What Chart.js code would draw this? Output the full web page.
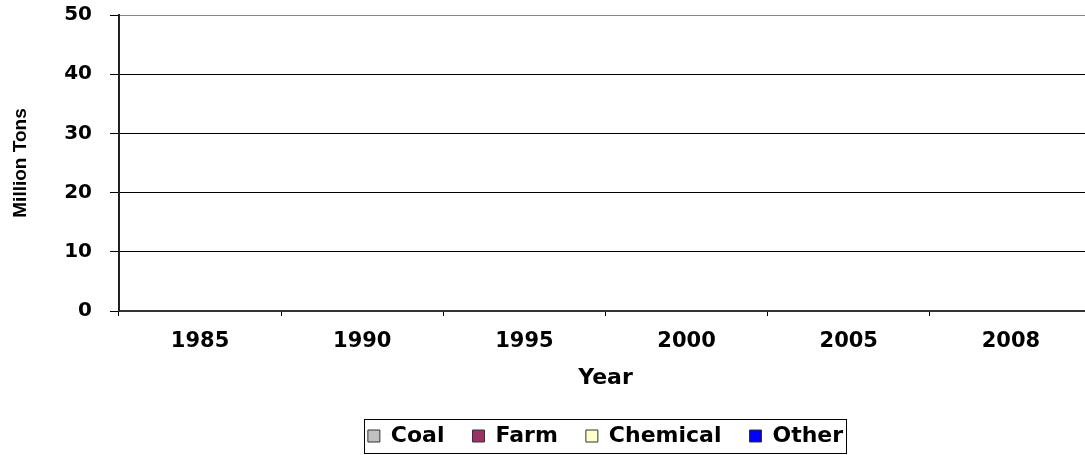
<!DOCTYPE html>
<html>
<head>
<meta charset="utf-8">
<script src="https://cdn.jsdelivr.net/npm/chart.js@4/dist/chart.umd.min.js"></script>
<style>
  html, body { margin: 0; padding: 0; background: #fff; overflow: hidden; }
  #wrap { position: relative; width: 1092px; height: 455px; }
</style>
</head>
<body>
<div id="wrap"><canvas id="c"></canvas></div>
<script>
// ---- data (all series read as zero: no bars visible in the reference) ----
const categories = ['1985', '1990', '1995', '2000', '2005', '2008'];
const coal     = [0, 0, 0, 0, 0, 0];
const farm     = [0, 0, 0, 0, 0, 0];
const chemical = [0, 0, 0, 0, 0, 0];
const other    = [0, 0, 0, 0, 0, 0];
const yTicks   = [0, 10, 20, 30, 40, 50];

const seriesNames  = ['Coal', 'Farm', 'Chemical', 'Other'];
const seriesColors = ['#C0C0C0', '#993366', '#FFFFCC', '#0000FF'];
const seriesData   = [coal, farm, chemical, other];

const WIDE = 'DejaVu Sans, Liberation Sans, Arial, sans-serif';

const legendBorder = {
  id: 'legendBorder',
  afterDraw(chart) {
    const lg = chart.legend;
    if (!lg || !lg.legendHitBoxes || !lg.legendHitBoxes.length) return;
    const hb = lg.legendHitBoxes;
    let l = Infinity, r = -Infinity, cy = 0;
    hb.forEach(b => { l = Math.min(l, b.left); r = Math.max(r, b.left + b.width); cy = b.top + b.height / 2; });
    const ctx = chart.ctx;
    ctx.save();
    ctx.strokeStyle = '#000';
    ctx.lineWidth = 1;
    ctx.strokeRect(Math.round(l - 4) + 0.5, Math.round(cy - 17) + 0.5, Math.round(r - l + 7), 34);
    ctx.restore();
  }
};

new Chart(document.getElementById('c'), {
  type: 'bar',
  data: {
    labels: categories,
    datasets: seriesNames.map((n, i) => ({
      label: n,
      data: seriesData[i],
      backgroundColor: seriesColors[i],
      borderColor: '#333',
      borderWidth: 1,
      stack: 's'
    }))
  },
  options: {
    responsive: true,
    maintainAspectRatio: false,
    animation: false,
    layout: { padding: { top: 15, left: 0, right: 0, bottom: -2 } },
    plugins: {
      tooltip: { enabled: false },
      legend: {
        position: 'bottom',
        fullSize: false,
        labels: {
          color: '#000',
          font: { family: WIDE, size: 22, weight: 'bold' },
          boxWidth: 12,
          boxHeight: 12,
          padding: 28
        }
      }
    },
    scales: {
      x: {
        stacked: true,
        offset: true,
        grid: {
          display: true,
          drawOnChartArea: false,
          drawTicks: true,
          offset: true,
          tickLength: 5,
          tickColor: '#000',
          color: '#000'
        },
        border: { display: true, color: '#333', width: 2 },
        ticks: {
          color: '#000',
          padding: 13,
          maxRotation: 0,
          font: { family: WIDE, size: 21, weight: 'bold' }
        },
        title: {
          display: true,
          text: 'Year',
          color: '#000',
          font: { family: WIDE, size: 22, weight: 'bold' },
          padding: { top: 0, bottom: 6 }
        },
        afterFit(scale) { scale.height = 86; }
      },
      y: {
        stacked: true,
        min: 0,
        max: 50,
        afterBuildTicks(scale) { scale.ticks = yTicks.map(v => ({ value: v })); },
        grid: {
          color: ctx => (ctx.tick && ctx.tick.value === 50) ? '#888' : '#000',
          lineWidth: 1,
          drawTicks: true,
          tickLength: 9,
          tickColor: '#000'
        },
        border: { display: true, color: '#222', width: 2 },
        ticks: {
          color: '#000',
          padding: 18,
          font: { family: WIDE, size: 20, weight: 'bold' }
        },
        title: {
          display: true,
          text: 'Million Tons',
          color: '#000',
          font: { family: 'Liberation Sans, Arial, sans-serif', size: 19, weight: 'bold' },
          padding: { top: 9, bottom: 0 }
        },
        afterFit(scale) { scale.width = 119; scale.paddingTop = 0; scale.paddingBottom = 0; }
      }
    }
  },
  plugins: [legendBorder]
});
</script>
</body>
</html>
